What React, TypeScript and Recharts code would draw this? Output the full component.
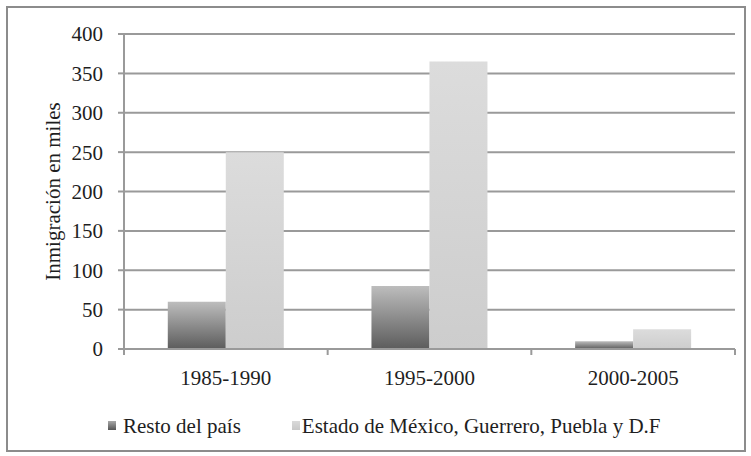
import React from 'react';
import { BarChart, Bar, XAxis, YAxis, CartesianGrid, Legend } from 'recharts';

const periods = ['1985-1990', '1995-2000', '2000-2005'];
const restoDelPais = [60, 80, 10];
const estadosCentro = [250, 365, 25];
const yTicks = [0, 50, 100, 150, 200, 250, 300, 350, 400];

const seriesNames = {
  resto: 'Resto del país',
  centro: 'Estado de México, Guerrero, Puebla y D.F',
};

const data = periods.map((p, i) => ({
  period: p,
  resto: restoDelPais[i],
  centro: estadosCentro[i],
}));

const FONT = '"Liberation Serif", "DejaVu Serif", serif';
const GRID = '#9a9a9a';
const FS = 21;

// label at the centre, tick marks at the category edges like the original
function PeriodTick(props: any) {
  const { x, y, payload, index } = props;
  const half = payload && payload.offset ? payload.offset : 101.8;
  const axisY = y - 15 - 6;
  return (
    <g>
      <line x1={x - half} y1={axisY} x2={x - half} y2={axisY + 6} stroke={GRID} strokeWidth={2} />
      {index === periods.length - 1 && (
        <line x1={x + half} y1={axisY} x2={x + half} y2={axisY + 6} stroke={GRID} strokeWidth={2} />
      )}
      <text x={x} y={y} dy="0.71em" textAnchor="middle" fontFamily={FONT} fontSize={FS} fill="#1e1e1e">
        {payload.value}
      </text>
    </g>
  );
}

function LegendBox() {
  const items = [
    { name: seriesNames.resto, bg: 'linear-gradient(#a8a8a8, #555)', gap: 51 },
    { name: seriesNames.centro, bg: 'linear-gradient(#dadada, #c8c8c8)', gap: 0 },
  ];
  return (
    <div
      style={{
        display: 'flex',
        justifyContent: 'flex-start',
        paddingLeft: 100,
        paddingTop: 12,
        height: 49,
        fontFamily: FONT,
        fontSize: FS,
        lineHeight: '22px',
        color: '#1e1e1e',
        boxSizing: 'content-box',
      }}
    >
      {items.map((it, i) => (
        <div key={i} style={{ display: 'flex', alignItems: 'center', marginRight: it.gap }}>
          <span style={{ display: 'inline-block', width: 8, height: 9, background: it.bg, marginRight: i === 0 ? 7 : 2 }} />
          <span>{it.name}</span>
        </div>
      ))}
    </div>
  );
}

export default function App() {
  return (
    <div
      style={{
        position: 'absolute',
        left: 6,
        top: 6,
        width: 736,
        height: 442,
        border: '2px solid #8c8c8c',
        background: '#fff',
      }}
    >
      <BarChart
        width={736}
        height={442}
        data={data}
        margin={{ top: 26, right: 9, bottom: 0, left: 0 }}
        barCategoryGap="21.5%"
        barGap={0}
      >
        <defs>
          <linearGradient id="gradDark" x1="0" y1="0" x2="0" y2="1">
            <stop offset="0%" stopColor="#bdbdbd" />
            <stop offset="100%" stopColor="#5c5c5c" />
          </linearGradient>
          <linearGradient id="gradLight" x1="0" y1="0" x2="0" y2="1">
            <stop offset="0%" stopColor="#dcdcdc" />
            <stop offset="100%" stopColor="#cdcdcd" />
          </linearGradient>
        </defs>
        <CartesianGrid vertical={false} stroke={GRID} strokeWidth={2} />
        <XAxis
          dataKey="period"
          height={40}
          axisLine={{ stroke: GRID, strokeWidth: 2 }}
          tickLine={false}
          tickMargin={15}
          tickSize={6}
          tick={<PeriodTick />}
          interval={0}
        />
        <YAxis
          width={116}
          domain={[0, 400]}
          ticks={yTicks}
          interval={0}
          axisLine={{ stroke: GRID, strokeWidth: 2 }}
          tickLine={{ stroke: GRID, strokeWidth: 2 }}
          tickSize={6}
          tickMargin={15}
          tick={{ fontFamily: FONT, fontSize: FS, fill: '#1e1e1e' }}
          label={{
            value: 'Inmigración en miles',
            angle: -90,
            position: 'insideLeft',
            offset: 0,
            dx: 45,
            style: { fontFamily: FONT, fontSize: FS, fill: '#1e1e1e', textAnchor: 'middle' },
          }}
        />
        <Legend verticalAlign="bottom" content={<LegendBox />} />
        <Bar dataKey="resto" name={seriesNames.resto} fill="url(#gradDark)" isAnimationActive={false} />
        <Bar dataKey="centro" name={seriesNames.centro} fill="url(#gradLight)" isAnimationActive={false} />
      </BarChart>
    </div>
  );
}
